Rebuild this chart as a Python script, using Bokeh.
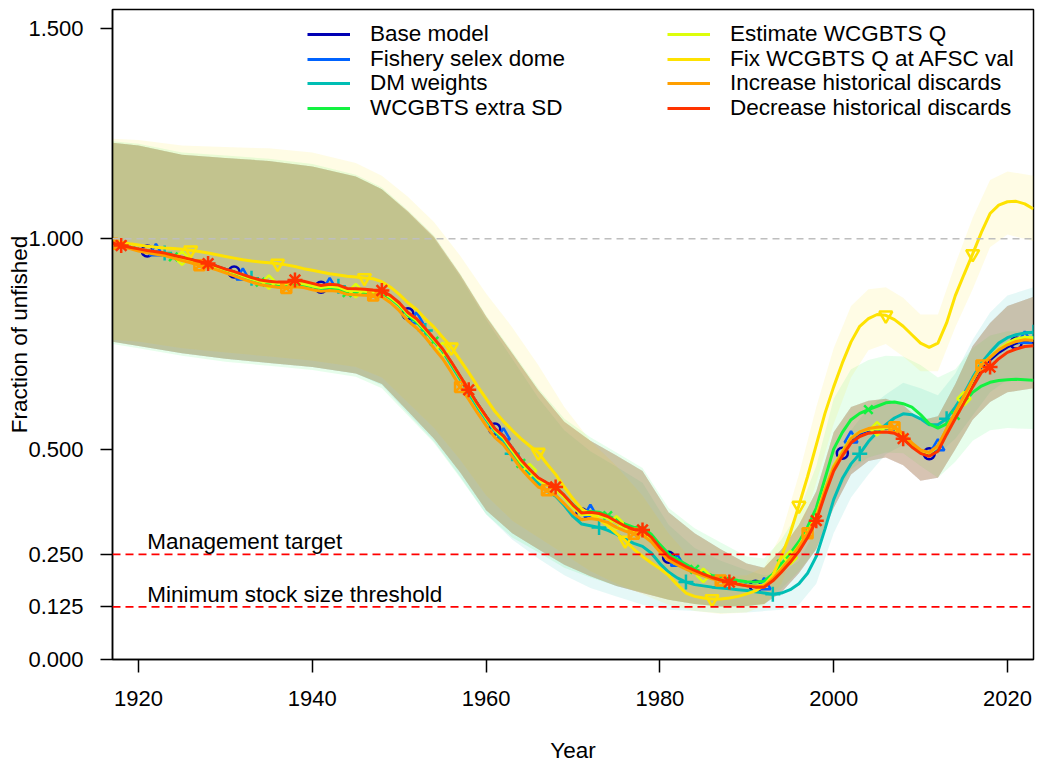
import math
from bokeh.plotting import figure
from bokeh.models import (Range1d, FixedTicker, PrintfTickFormatter, Legend,
                          LegendItem, Span, Label)
from bokeh.embed import file_html
from bokeh.resources import INLINE

# ---------------- data ----------------
years = list(range(1917, 2024))

model_names = ["Base model", "Fishery selex dome", "DM weights", "WCGBTS extra SD",
               "Estimate WCGBTS Q", "Fix WCGBTS Q at AFSC val",
               "Increase historical discards", "Decrease historical discards"]

base = [0.990, 0.984, 0.980,
        0.975, 0.971, 0.968, 0.965, 0.960, 0.955, 0.950, 0.945, 0.940, 0.934,
        0.927, 0.921, 0.913, 0.906, 0.900, 0.897, 0.894, 0.893, 0.897, 0.894,
        0.889, 0.885, 0.888, 0.886, 0.878, 0.877, 0.876, 0.874, 0.875, 0.862,
        0.845, 0.822, 0.807, 0.784, 0.760, 0.736, 0.705, 0.672, 0.640, 0.607,
        0.577, 0.548, 0.530, 0.502, 0.474, 0.450, 0.430, 0.418, 0.408, 0.388,
        0.365, 0.346, 0.348, 0.345, 0.338, 0.326, 0.315, 0.307, 0.307, 0.290,
        0.265, 0.243, 0.231, 0.221, 0.212, 0.204, 0.196, 0.190, 0.185, 0.180,
        0.176, 0.174, 0.175, 0.192, 0.214, 0.238, 0.265, 0.298, 0.335, 0.400,
        0.455, 0.490, 0.522, 0.537, 0.545, 0.548, 0.550, 0.548, 0.532, 0.510,
        0.494, 0.489, 0.505, 0.545, 0.583, 0.620, 0.660, 0.695, 0.712, 0.730,
        0.743, 0.752, 0.756, 0.754]

selex_dome = [0.990, 0.984, 0.980,
              0.975, 0.971, 0.970, 0.965, 0.960, 0.955, 0.950, 0.945, 0.940, 0.934,
              0.927, 0.921, 0.912, 0.906, 0.900, 0.897, 0.894, 0.893, 0.897, 0.894,
              0.889, 0.885, 0.889, 0.886, 0.878, 0.877, 0.876, 0.874, 0.875, 0.862,
              0.845, 0.822, 0.808, 0.784, 0.760, 0.736, 0.705, 0.672, 0.640, 0.607,
              0.577, 0.548, 0.532, 0.502, 0.474, 0.450, 0.430, 0.418, 0.408, 0.388,
              0.366, 0.347, 0.350, 0.346, 0.339, 0.327, 0.316, 0.307, 0.307, 0.291,
              0.266, 0.244, 0.232, 0.222, 0.213, 0.205, 0.197, 0.191, 0.186, 0.181,
              0.177, 0.175, 0.176, 0.193, 0.215, 0.239, 0.266, 0.299, 0.336, 0.402,
              0.457, 0.492, 0.525, 0.539, 0.547, 0.550, 0.552, 0.550, 0.534, 0.512,
              0.496, 0.491, 0.506, 0.547, 0.586, 0.624, 0.664, 0.700, 0.718, 0.736,
              0.748, 0.756, 0.762, 0.764]

dm_weights = [0.990, 0.984, 0.980,
              0.975, 0.971, 0.968, 0.966, 0.960, 0.955, 0.950, 0.945, 0.940, 0.934,
              0.927, 0.921, 0.913, 0.906, 0.900, 0.897, 0.894, 0.893, 0.896, 0.893,
              0.889, 0.885, 0.888, 0.887, 0.878, 0.877, 0.876, 0.874, 0.874, 0.860,
              0.843, 0.820, 0.803, 0.782, 0.758, 0.733, 0.700, 0.667, 0.633, 0.600,
              0.570, 0.542, 0.520, 0.489, 0.462, 0.440, 0.418, 0.400, 0.388, 0.366,
              0.340, 0.322, 0.318, 0.314, 0.307, 0.298, 0.286, 0.276, 0.269, 0.253,
              0.228, 0.208, 0.194, 0.184, 0.178, 0.175, 0.172, 0.170, 0.168, 0.166,
              0.164, 0.161, 0.158, 0.155, 0.158, 0.166, 0.180, 0.205, 0.245, 0.310,
              0.380, 0.430, 0.465, 0.489, 0.518, 0.540, 0.558, 0.574, 0.584, 0.582,
              0.572, 0.558, 0.558, 0.572, 0.600, 0.632, 0.670, 0.705, 0.730, 0.752,
              0.765, 0.772, 0.776, 0.778]

extra_sd = [0.990, 0.984, 0.980,
            0.975, 0.971, 0.967, 0.963, 0.957, 0.953, 0.948, 0.943, 0.938, 0.932,
            0.925, 0.919, 0.911, 0.904, 0.897, 0.894, 0.891, 0.890, 0.893, 0.890,
            0.886, 0.882, 0.884, 0.880, 0.872, 0.873, 0.872, 0.870, 0.871, 0.858,
            0.841, 0.818, 0.802, 0.780, 0.757, 0.733, 0.702, 0.669, 0.637, 0.604,
            0.574, 0.546, 0.528, 0.498, 0.466, 0.448, 0.430, 0.418, 0.410, 0.390,
            0.368, 0.350, 0.352, 0.350, 0.342, 0.332, 0.322, 0.314, 0.314, 0.298,
            0.273, 0.251, 0.238, 0.226, 0.214, 0.207, 0.200, 0.196, 0.192, 0.188,
            0.185, 0.184, 0.186, 0.203, 0.227, 0.252, 0.280, 0.315, 0.360, 0.430,
            0.500, 0.540, 0.570, 0.585, 0.594, 0.602, 0.610, 0.612, 0.608, 0.600,
            0.582, 0.560, 0.550, 0.560, 0.580, 0.610, 0.635, 0.650, 0.659, 0.663,
            0.665, 0.666, 0.665, 0.664]

est_q = [0.990, 0.984, 0.980,
         0.975, 0.971, 0.968, 0.965, 0.959, 0.954, 0.949, 0.944, 0.939, 0.933,
         0.926, 0.920, 0.912, 0.905, 0.899, 0.897, 0.894, 0.893, 0.896, 0.893,
         0.888, 0.884, 0.887, 0.885, 0.877, 0.877, 0.875, 0.873, 0.874, 0.861,
         0.844, 0.821, 0.806, 0.784, 0.760, 0.737, 0.706, 0.672, 0.640, 0.606,
         0.575, 0.546, 0.527, 0.497, 0.469, 0.449, 0.428, 0.415, 0.405, 0.385,
         0.362, 0.344, 0.345, 0.342, 0.336, 0.325, 0.313, 0.304, 0.304, 0.288,
         0.263, 0.242, 0.230, 0.219, 0.210, 0.200, 0.194, 0.189, 0.184, 0.180,
         0.176, 0.175, 0.177, 0.194, 0.218, 0.242, 0.270, 0.303, 0.342, 0.405,
         0.460, 0.495, 0.527, 0.541, 0.547, 0.548, 0.551, 0.549, 0.533, 0.512,
         0.496, 0.490, 0.506, 0.548, 0.587, 0.620, 0.663, 0.700, 0.718, 0.738,
         0.752, 0.762, 0.766, 0.765]

fix_q = [0.995, 0.992, 0.988,
         0.985, 0.982, 0.980, 0.978, 0.977, 0.975, 0.973, 0.970, 0.966, 0.962,
         0.958, 0.954, 0.950, 0.947, 0.945, 0.943, 0.941, 0.938, 0.934, 0.929,
         0.925, 0.921, 0.917, 0.914, 0.911, 0.909, 0.907, 0.905, 0.898, 0.885,
         0.868, 0.848, 0.832, 0.810, 0.790, 0.766, 0.742, 0.712, 0.682, 0.650,
         0.620, 0.590, 0.566, 0.545, 0.525, 0.508, 0.492, 0.465, 0.440, 0.410,
         0.382, 0.358, 0.345, 0.333, 0.318, 0.300, 0.283, 0.262, 0.245, 0.230,
         0.216, 0.200, 0.178, 0.158, 0.150, 0.146, 0.144, 0.144, 0.146, 0.150,
         0.156, 0.163, 0.176, 0.200, 0.245, 0.300, 0.366, 0.435, 0.510, 0.585,
         0.648, 0.705, 0.755, 0.792, 0.810, 0.820, 0.818, 0.808, 0.792, 0.772,
         0.752, 0.742, 0.752, 0.800, 0.865, 0.915, 0.964, 1.015, 1.060, 1.080,
         1.088, 1.089, 1.083, 1.071]

incr_discards = [0.988, 0.981, 0.977,
                 0.971, 0.967, 0.963, 0.960, 0.954, 0.948, 0.943, 0.937, 0.932, 0.926,
                 0.919, 0.912, 0.904, 0.897, 0.891, 0.888, 0.885, 0.883, 0.886, 0.884,
                 0.879, 0.875, 0.877, 0.875, 0.868, 0.867, 0.866, 0.865, 0.862, 0.848,
                 0.829, 0.805, 0.788, 0.766, 0.740, 0.715, 0.683, 0.648, 0.618, 0.586,
                 0.556, 0.528, 0.510, 0.482, 0.454, 0.431, 0.410, 0.402, 0.390, 0.370,
                 0.348, 0.332, 0.335, 0.332, 0.326, 0.314, 0.305, 0.299, 0.296, 0.280,
                 0.256, 0.236, 0.225, 0.215, 0.206, 0.199, 0.192, 0.188, 0.183, 0.178,
                 0.175, 0.173, 0.175, 0.192, 0.215, 0.240, 0.268, 0.300, 0.338, 0.402,
                 0.457, 0.492, 0.525, 0.541, 0.549, 0.552, 0.554, 0.552, 0.537, 0.515,
                 0.498, 0.492, 0.508, 0.548, 0.588, 0.627, 0.665, 0.699, 0.718, 0.736,
                 0.748, 0.756, 0.760, 0.758]

decr_discards = [0.990, 0.984, 0.980,
                 0.976, 0.972, 0.969, 0.966, 0.961, 0.956, 0.951, 0.946, 0.941, 0.935,
                 0.928, 0.922, 0.915, 0.908, 0.902, 0.899, 0.897, 0.897, 0.902, 0.899,
                 0.894, 0.889, 0.892, 0.890, 0.882, 0.881, 0.880, 0.878, 0.877, 0.865,
                 0.848, 0.825, 0.810, 0.787, 0.763, 0.738, 0.707, 0.674, 0.641, 0.608,
                 0.578, 0.549, 0.531, 0.503, 0.475, 0.452, 0.432, 0.420, 0.410, 0.390,
                 0.367, 0.348, 0.350, 0.347, 0.340, 0.328, 0.317, 0.309, 0.308, 0.291,
                 0.266, 0.244, 0.232, 0.221, 0.212, 0.203, 0.195, 0.189, 0.184, 0.179,
                 0.175, 0.172, 0.172, 0.187, 0.208, 0.231, 0.257, 0.290, 0.330, 0.392,
                 0.448, 0.484, 0.515, 0.530, 0.538, 0.540, 0.541, 0.538, 0.525, 0.505,
                 0.490, 0.483, 0.495, 0.535, 0.573, 0.610, 0.648, 0.682, 0.695, 0.715,
                 0.730, 0.738, 0.744, 0.746]

# 95% interval bounds (read at a coarser set of years)
ci_years = [1917, 1920, 1925, 1930, 1935, 1940, 1945, 1948, 1951, 1954, 1957, 1960,
            1963, 1966, 1969, 1972, 1975, 1978, 1981, 1984, 1987, 1990, 1992, 1994,
            1996, 1998, 2000, 2002, 2004, 2006, 2008, 2010, 2012, 2014, 2016, 2018,
            2020, 2023]

base_ci_hi = [1.228, 1.222, 1.200, 1.192, 1.185, 1.172, 1.148, 1.118, 1.065, 1.004, 0.915, 0.815,
              0.728, 0.640, 0.565, 0.520, 0.485, 0.448, 0.350, 0.300, 0.262, 0.228, 0.218, 0.262,
              0.320, 0.400, 0.540, 0.600, 0.615, 0.620, 0.605, 0.568, 0.578, 0.655, 0.745, 0.800,
              0.840, 0.862]
base_ci_lo = [0.755, 0.745, 0.728, 0.715, 0.705, 0.695, 0.680, 0.655, 0.590, 0.525, 0.445, 0.355,
              0.300, 0.262, 0.225, 0.198, 0.175, 0.158, 0.142, 0.132, 0.126, 0.127, 0.132, 0.160,
              0.205, 0.262, 0.360, 0.440, 0.472, 0.480, 0.462, 0.425, 0.432, 0.500, 0.570, 0.612,
              0.635, 0.645]

dm_ci_hi = [1.228, 1.222, 1.200, 1.192, 1.185, 1.172, 1.148, 1.118, 1.062, 1.000, 0.910, 0.808,
            0.715, 0.622, 0.545, 0.495, 0.458, 0.420, 0.320, 0.265, 0.235, 0.212, 0.200, 0.205,
            0.235, 0.310, 0.460, 0.545, 0.598, 0.630, 0.658, 0.645, 0.628, 0.680, 0.760, 0.825,
            0.865, 0.885]
dm_ci_lo = [0.755, 0.745, 0.728, 0.715, 0.705, 0.695, 0.680, 0.652, 0.585, 0.518, 0.435, 0.345,
            0.285, 0.240, 0.200, 0.170, 0.150, 0.130, 0.118, 0.115, 0.110, 0.112, 0.115, 0.118,
            0.130, 0.180, 0.300, 0.385, 0.440, 0.488, 0.510, 0.500, 0.488, 0.525, 0.580, 0.635,
            0.665, 0.670]

xsd_ci_hi = [1.232, 1.226, 1.205, 1.198, 1.190, 1.178, 1.152, 1.122, 1.068, 1.008, 0.918, 0.818,
             0.732, 0.645, 0.572, 0.528, 0.492, 0.455, 0.360, 0.312, 0.278, 0.245, 0.240, 0.285,
             0.352, 0.460, 0.620, 0.690, 0.712, 0.722, 0.720, 0.700, 0.670, 0.690, 0.740, 0.770,
             0.780, 0.780]
xsd_ci_lo = [0.750, 0.740, 0.722, 0.708, 0.698, 0.688, 0.672, 0.645, 0.580, 0.515, 0.432, 0.345,
             0.290, 0.255, 0.218, 0.195, 0.175, 0.160, 0.142, 0.132, 0.126, 0.126, 0.132, 0.168,
             0.210, 0.262, 0.380, 0.452, 0.480, 0.492, 0.490, 0.460, 0.432, 0.470, 0.520, 0.545,
             0.550, 0.548]

fixq_ci_hi = [1.238, 1.235, 1.222, 1.218, 1.215, 1.205, 1.180, 1.150, 1.100, 1.040, 0.960, 0.870,
              0.790, 0.700, 0.600, 0.520, 0.460, 0.390, 0.300, 0.230, 0.200, 0.200, 0.220, 0.300,
              0.440, 0.600, 0.740, 0.840, 0.880, 0.885, 0.860, 0.820, 0.820, 0.940, 1.050, 1.140,
              1.160, 1.150]
fixq_ci_lo = [0.760, 0.755, 0.740, 0.730, 0.720, 0.710, 0.695, 0.670, 0.610, 0.550, 0.475, 0.390,
              0.330, 0.290, 0.250, 0.210, 0.180, 0.155, 0.130, 0.115, 0.108, 0.112, 0.128, 0.180,
              0.290, 0.420, 0.560, 0.670, 0.735, 0.750, 0.720, 0.685, 0.685, 0.790, 0.880, 0.980,
              1.010, 0.995]

y_ticks = [0.0, 0.125, 0.25, 0.5, 1.0, 1.5]
x_ticks = [1920, 1940, 1960, 1980, 2000, 2020]
ref_unfished = 1.0
mgmt_target = 0.25
mss_threshold = 0.125

# ---------------- styling ----------------
colors = ["#0000B4", "#0063FF", "#00BEB4", "#13F240",
          "#DDFE0B", "#FEE201", "#FF9F00", "#FF3300"]
series = [base, selex_dome, dm_weights, extra_sd, est_q, fix_q, incr_discards, decr_discards]
ci_lo = [base_ci_lo, base_ci_lo, dm_ci_lo, xsd_ci_lo, base_ci_lo, fixq_ci_lo, base_ci_lo, base_ci_lo]
ci_hi = [base_ci_hi, base_ci_hi, dm_ci_hi, xsd_ci_hi, base_ci_hi, fixq_ci_hi, base_ci_hi, base_ci_hi]
marker_spec = [("circle", 11, 0), ("triangle", 13, 0), ("cross", 15, 0), ("x", 12, 0),
               ("square", 9.5, math.pi / 4), ("inverted_triangle", 13, 0),
               ("square_x", 10, 0), ("asterisk", 15, 0)]
marker_digit = [1, 2, 3, 4, 5, 6, 7, 8]

FONT = "Liberation Sans"
NARROW = "Liberation Sans Narrow, Liberation Sans"

p = figure(width=1037, height=767,
           x_range=Range1d(1917, 2023), y_range=Range1d(0, 1.545),
           output_backend="svg", toolbar_location=None,
           min_border_left=112, min_border_right=4, min_border_top=9, min_border_bottom=108)
p.background_fill_color = "white"
p.border_fill_color = "white"
p.outline_line_color = "black"
p.outline_line_width = 1.5
p.xgrid.visible = False
p.ygrid.visible = False

# shaded intervals
for i in range(8):
    p.varea(x=ci_years, y1=ci_lo[i], y2=ci_hi[i], fill_color=colors[i], fill_alpha=0.1)

# reference lines
p.add_layout(Span(location=ref_unfished, dimension="width", line_color="#BEBEBE",
                  line_dash="7 5", line_width=1.5))
p.add_layout(Span(location=mgmt_target, dimension="width", line_color="#FF0000",
                  line_dash="8 5", line_width=1.8))
p.add_layout(Span(location=mss_threshold, dimension="width", line_color="#FF0000",
                  line_dash="8 5", line_width=1.8))

line_renderers = []
for i in range(8):
    r = p.line(years, series[i], line_color=colors[i], line_width=3)
    line_renderers.append(r)
    mx = [y for y in years if y % 10 == marker_digit[i] % 10]
    my = [series[i][years.index(y)] for y in mx]
    mk, sz, ang = marker_spec[i]
    p.scatter(mx, my, marker=mk, size=sz, angle=ang, line_color=colors[i],
              fill_color=None, line_width=2.5)

p.add_layout(Label(x=1921, y=mgmt_target, text="Management target",
                   text_font=FONT, text_font_size="22.5px", text_baseline="bottom",
                   text_color="black"))
p.add_layout(Label(x=1921, y=mss_threshold, text="Minimum stock size threshold",
                   text_font=FONT, text_font_size="22.5px", text_baseline="bottom",
                   text_color="black"))

# axes
p.xaxis.ticker = FixedTicker(ticks=x_ticks)
p.yaxis.ticker = FixedTicker(ticks=y_ticks)
p.yaxis.formatter = PrintfTickFormatter(format="%.3f")
for ax in (p.xaxis, p.yaxis):
    ax.axis_line_width = 1.5
    ax.major_tick_line_width = 1.5
    ax.major_tick_in = 0
    ax.minor_tick_line_color = None
    ax.major_label_text_font = FONT
    ax.major_label_text_font_size = "22px"
    ax.major_label_text_color = "black"
    ax.axis_label_text_font = FONT
    ax.axis_label_text_font_size = "22.5px"
    ax.axis_label_text_font_style = "normal"
    ax.axis_label_text_color = "black"
p.xaxis.major_label_text_font = NARROW
p.xaxis.axis_label_text_font = NARROW
p.xaxis.major_tick_out = 13
p.yaxis.major_tick_out = 12
p.xaxis.major_label_standoff = 18
p.yaxis.major_label_standoff = 17
p.xaxis.axis_label = "Year"
p.yaxis.axis_label = "Fraction of unfished"
p.xaxis.axis_label_standoff = 29
p.yaxis.axis_label_standoff = -7

# legend: two columns of four rows, one single-entry legend per row for exact spacing
leg_kw = dict(glyph_width=43, glyph_height=26, label_height=26, label_standoff=20,
              spacing=0, padding=0, margin=0, border_line_color=None,
              background_fill_alpha=0, label_text_font=FONT,
              label_text_font_size="22.5px", label_text_color="black")
row_loc_y = [612, 587, 563, 538]
col_loc_x = [195, 555]
for i in range(8):
    col, row = divmod(i, 4)
    p.add_layout(Legend(items=[LegendItem(label=model_names[i], renderers=[line_renderers[i]])],
                        location=(col_loc_x[col], row_loc_y[row]), **leg_kw))

open("out.html", "w").write(file_html(p, INLINE))
